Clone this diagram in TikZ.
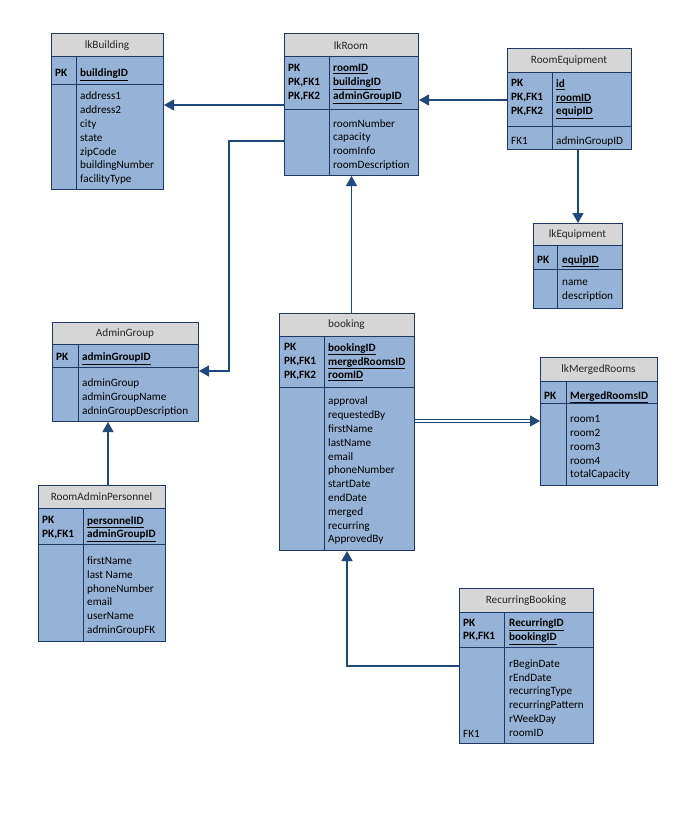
\documentclass[tikz,border=0pt]{standalone}
\usepackage{fontspec}
\setmainfont{Carlito}
\usetikzlibrary{arrows.meta}
\definecolor{tblblue}{RGB}{149,179,215}
\definecolor{tblgray}{RGB}{214,214,214}
\definecolor{tblline}{RGB}{31,56,100}
\definecolor{fkline}{RGB}{31,73,125}
\newcommand\tabfont{\fontsize{11.2}{13.8}\selectfont}
\tikzset{
  tbl/.style={draw=tblline, fill=tblblue, line width=1pt, anchor=north west, inner sep=0pt},
  hdr/.style={draw=tblline, fill=tblgray, line width=1pt},
  tabline/.style={draw=tblline, line width=1pt},
  ttl/.style={inner sep=0pt, font=\tabfont, text=black!85},
  fields/.style={anchor=north west, inner sep=0pt, yshift=-3pt, align=left, font=\tabfont, execute at begin node=\strut},
  keycol/.style={fields, font=\tabfont\bfseries},
  fk/.style={draw=fkline, line width=1.2pt, -{Triangle[width=11pt,length=10pt]}},
  dbl/.style={draw=fkline, line width=0.8pt, double=white, double distance=1.6pt}
}
\begin{document}
\begin{tikzpicture}[x=1pt,y=-1pt]
  %%%%% START %%%%%
  \fill[white] (0,0) rectangle (676,816);

  % lkBuilding
  \node[tbl, minimum width=112pt, minimum height=155pt] (bldg) at (51,34) {};
  \draw[hdr] (51,34) rectangle (163,57);
  \draw[tabline] (51,84) -- (163,84) (76,57) -- (76,189);
  \node[ttl] (bldgT) at (107,46) {lkBuilding};
  \node[keycol] (bldgK) at (55,64) {PK};
  \node[keycol] (bldgP) at (80,64) {\underline{buildingID}};
  \node[fields] (bldgF) at (80,89) {address1\\address2\\city\\state\\zipCode\\buildingNumber\\facilityType};

  % lkRoom
  \node[tbl, minimum width=134pt, minimum height=141pt] (room) at (284,34) {};
  \draw[hdr] (284,34) rectangle (418,57);
  \draw[tabline] (284,109) -- (418,109) (329,57) -- (329,175);
  \node[ttl] (roomT) at (351,46) {lkRoom};
  \node[keycol] (roomK) at (288,61.5) {PK\\PK,FK1\\PK,FK2};
  \node[keycol] (roomP) at (333,61.5) {\underline{roomID}\\\underline{buildingID}\\\underline{adminGroupID}};
  \node[fields] (roomF) at (333,116.2) {roomNumber\\capacity\\roomInfo\\roomDescription};

  % RoomEquipment
  \node[tbl, minimum width=124pt, minimum height=100pt] (roomeq) at (507,49) {};
  \draw[hdr] (507,49) rectangle (631,72);
  \draw[tabline] (507,126) -- (631,126) (552,72) -- (552,149);
  \node[ttl] (roomeqT) at (569,61) {RoomEquipment};
  \node[keycol] (roomeqK) at (511,76.3) {PK\\PK,FK1\\PK,FK2};
  \node[keycol] (roomeqP) at (556,76.3) {\underline{id}\\\underline{roomID}\\\underline{equipID}};
  \node[fields] (roomeqFK) at (511,131.3) {FK1};
  \node[fields] (roomeqF) at (556,131.3) {adminGroupID};

  % lkEquipment
  \node[tbl, minimum width=89pt, minimum height=85pt] (equip) at (533,223) {};
  \draw[hdr] (533,223) rectangle (622,245);
  \draw[tabline] (533,269) -- (622,269) (557,245) -- (557,308);
  \node[ttl] (equipT) at (577.5,234.5) {lkEquipment};
  \node[keycol] (equipK) at (537,250.3) {PK};
  \node[keycol] (equipP) at (562,250.3) {\underline{equipID}};
  \node[fields] (equipF) at (562,277.3) {name\\description};

  % AdminGroup
  \node[tbl, minimum width=146pt, minimum height=99pt] (admin) at (52,322) {};
  \draw[hdr] (52,322) rectangle (198,344);
  \draw[tabline] (52,367) -- (198,367) (78,344) -- (78,421);
  \node[ttl] (adminT) at (125,333.5) {AdminGroup};
  \node[keycol] (adminK) at (56,348) {PK};
  \node[keycol] (adminP) at (82,348) {\underline{adminGroupID}};
  \node[fields] (adminF) at (82,375.6) {adminGroup\\adminGroupName\\adninGroupDescription};

  % booking
  \node[tbl, minimum width=135pt, minimum height=237pt] (booking) at (279,313) {};
  \draw[hdr] (279,313) rectangle (414,336);
  \draw[tabline] (279,387) -- (414,387) (324,336) -- (324,550);
  \node[ttl] (bookingT) at (346.5,325) {booking};
  \node[keycol] (bookingK) at (284,340.3) {PK\\PK,FK1\\PK,FK2};
  \node[keycol] (bookingP) at (328,340.3) {\underline{bookingID}\\\underline{mergedRoomsID}\\\underline{roomID}};
  \node[fields] (bookingF) at (328,394) {approval\\requestedBy\\firstName\\lastName\\email\\phoneNumber\\startDate\\endDate\\merged\\recurring\\ApprovedBy};

  % lkMergedRooms
  \node[tbl, minimum width=117pt, minimum height=128pt] (merged) at (540,357) {};
  \draw[hdr] (540,357) rectangle (657,381);
  \draw[tabline] (540,403) -- (657,403) (566,381) -- (566,485);
  \node[ttl] (mergedT) at (598.5,369.5) {lkMergedRooms};
  \node[keycol] (mergedK) at (544,386.3) {PK};
  \node[keycol] (mergedP) at (570,386.3) {\underline{MergedRoomsID}};
  \node[fields] (mergedF) at (570,412.3) {room1\\room2\\room3\\room4\\totalCapacity};

  % RoomAdminPersonnel
  \node[tbl, minimum width=127pt, minimum height=156pt] (rap) at (38,485) {};
  \draw[hdr] (38,485) rectangle (165,508);
  \draw[tabline] (38,544) -- (165,544) (83,508) -- (83,641);
  \node[ttl] (rapT) at (101.5,497) {RoomAdminPersonnel};
  \node[keycol] (rapK) at (42,513) {PK\\PK,FK1};
  \node[keycol] (rapP) at (87,513) {\underline{personnelID}\\\underline{adminGroupID}};
  \node[fields] (rapF) at (87,553.6) {firstName\\last Name\\phoneNumber\\email\\userName\\adminGroupFK};

  % RecurringBooking
  \node[tbl, minimum width=134pt, minimum height=155pt] (recur) at (459,588) {};
  \draw[hdr] (459,588) rectangle (593,612);
  \draw[tabline] (459,647) -- (593,647) (504,612) -- (504,743);
  \node[ttl] (recurT) at (526,600.5) {RecurringBooking};
  \node[keycol] (recurK) at (463,615.6) {PK\\PK,FK1};
  \node[keycol] (recurP) at (509,615.6) {\underline{RecurringID}\\\underline{bookingID}};
  \node[fields] (recurF) at (509,656.3) {rBeginDate\\rEndDate\\recurringType\\recurringPattern\\rWeekDay\\roomID};
  \node[fields] (recurFK) at (463,724.6) {FK1};

  % connectors
  \draw[fk] (room.west |- 0,105) -- (bldg.east |- 0,105);
  \draw[fk] (roomeq.west |- 0,100) -- (room.east |- 0,100);
  \draw[fk] (roomeq.south -| equip.north) -- (equip.north);
  \coordinate (bend) at (229,371);
  \draw[fk] (room.west |- 0,141) -| (bend) -- (admin.east |- bend);
  \draw[fk] (booking.north -| room.south) -- (room.south);
  \coordinate (mrgIn) at (merged.west |- 0,421);
  \draw[dbl, shorten >=8pt] (booking.east |- mrgIn) -- (mrgIn);
  \draw[fk] ([xshift=-9pt]mrgIn) -- (mrgIn);
  \draw[fk] (rap.north -| 108,0) -- (admin.south -| 108,0);
  \draw[fk] (recur.west |- 0,666) -| (booking.south);

  %%%%% END %%%%%
\end{tikzpicture}
\end{document}
